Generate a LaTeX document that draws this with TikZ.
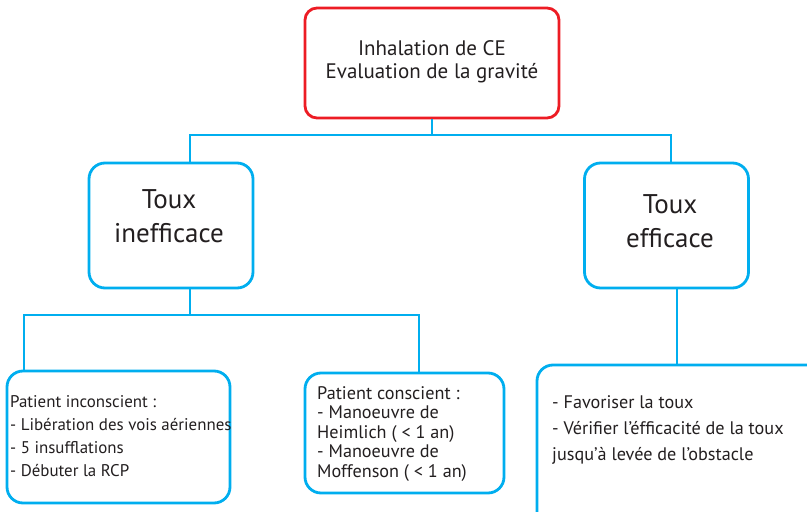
\documentclass[tikz,border=0pt]{standalone}
\usepackage{fontspec}
\setmainfont{PT Sans}
\definecolor{cy}{HTML}{00AEEF}
\definecolor{rd}{HTML}{ED1C24}
\definecolor{tx}{HTML}{231F20}
\begin{document}
\begin{tikzpicture}[x=1pt,y=-1pt,
  box/.style={draw=cy, line width=2.8pt, rounded corners=16pt, fill=white, inner sep=0pt},
  conn/.style={draw=cy, line width=2.6pt},
  txt/.style={text=tx, inner sep=0pt},
  small/.style={txt, align=left, anchor=base west}]
\useasboundingbox (0,0) rectangle (807,512);
\clip (0,0) rectangle (807,512);
% boxes
\node[box, draw=rd, rounded corners=12pt, minimum width=254pt, minimum height=110pt] (top) at (432,63) {};
\node[box, minimum width=164pt, minimum height=125pt] (t1) at (171,225.5) {};
\node[box, minimum width=164pt, minimum height=125pt] (t2) at (666.5,225.5) {};
\node[box, minimum width=223pt, minimum height=132pt] (b1) at (118.5,437) {};
\node[box, minimum width=199pt, minimum height=120pt] (b2) at (404.5,433) {};
\node[box, minimum width=293pt, minimum height=175pt] (b3) at (683.5,452.5) {};
% texts (base anchor = baseline of the last line)
\node[txt, align=center, anchor=base, font=\fontsize{21}{23}\selectfont] (toptxt) at (432,78)
  {Inhalation de CE\\Evaluation de la gravité};
\node[txt, align=center, anchor=base, font=\fontsize{27}{34}\selectfont] (t1txt) at (169,242) {Toux\\inefficace};
\node[txt, align=center, anchor=base, font=\fontsize{27}{34}\selectfont] (t2txt) at (670,247) {Toux\\efficace};
\node[small, font=\fontsize{16.9}{23}\selectfont] (b1txt) at (10,476)
  {Patient inconscient :\\- Libération des vois aériennes\\- 5 insufflations\\- Débuter la RCP};
\node[small, font=\fontsize{18.2}{19.5}\selectfont] (b2txt) at (317,477)
  {Patient conscient :\\- Manoeuvre de\\Heimlich ( < 1 an)\\- Manoeuvre de\\Moffenson ( < 1 an)};
\node[small, font=\fontsize{18.2}{26}\selectfont] (b3txt) at (552,460)
  {- Favoriser la toux\\- Vérifier l’éfficacité de la toux\\jusqu’à levée de l’obstacle};
% connectors
\coordinate (j1) at (432,135);
\coordinate (j2) at (190,315);
\coordinate (k1) at (24,315);
\coordinate (k2) at (419,315);
\draw[conn] (top.south) -- (j1);
\draw[conn] ([xshift=19pt]t1.north) |- (j1) -| ([xshift=4.5pt]t2.north);
\draw[conn] ([xshift=19pt]t1.south) -- (j2);
\draw[conn] ([xshift=-94.5pt]b1.north) -- (k1) -- (k2) -- ([xshift=14.5pt]b2.north);
\draw[conn] ([xshift=10.5pt]t2.south) -- ([xshift=10.5pt]t2.south |- b3.north);
\end{tikzpicture}
\end{document}
